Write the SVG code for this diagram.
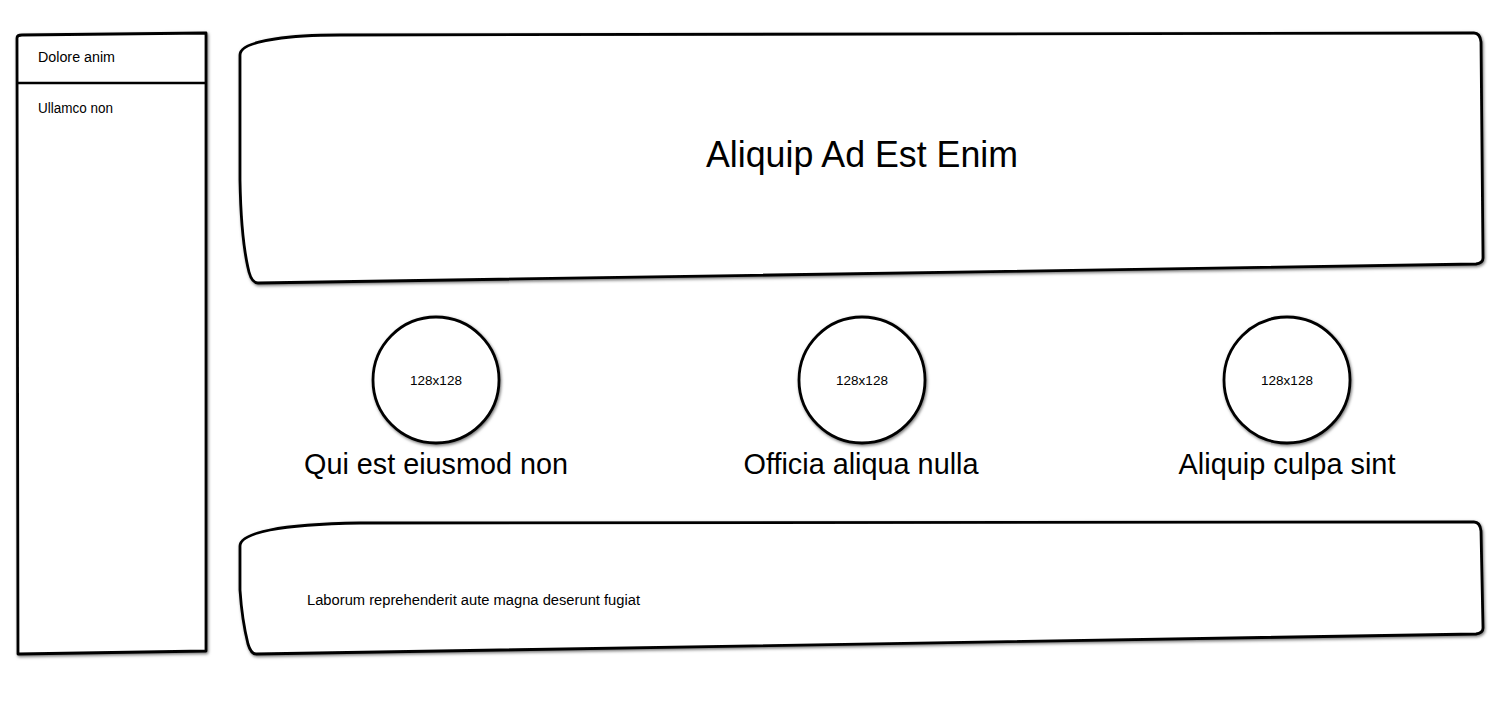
<svg xmlns="http://www.w3.org/2000/svg" width="1500" height="720" viewBox="0 0 1500 720">
<defs>
<filter id="sh" x="-5%" y="-5%" width="110%" height="110%">
<feDropShadow dx="1" dy="1.5" stdDeviation="1.6" flood-color="#000" flood-opacity="0.55"/>
</filter>
<style>
.box{fill:#fff;stroke:#000;stroke-width:2.8;stroke-linejoin:round;filter:url(#sh)}
.ln{fill:none;stroke:#000;stroke-width:2.6}
text{font-family:"Liberation Sans","Noto Sans",sans-serif;fill:#000}
.sm{font-size:14px}
.img{font-size:13.5px;text-anchor:middle}
.cap{font-size:29px;text-anchor:middle}
.title{font-size:36px;text-anchor:middle}
</style>
</defs>
<rect width="1500" height="720" fill="#fff"/>
<g id="sidebar">
<path class="box" d="M17,38 Q17,35 22,35 L206,33 L206,651 L18,654 Z"/>
<line class="ln" x1="17" y1="83" x2="206" y2="83"/>
<text class="sm" x="38" y="62" textLength="77" lengthAdjust="spacingAndGlyphs">Dolore anim</text>
<text class="sm" x="38" y="113" textLength="75" lengthAdjust="spacingAndGlyphs">Ullamco non</text>
</g>
<g id="header">
<path class="box" d="M240,55 Q240,44 275,39 Q300,35 340,35 L1474,33 Q1480,33 1481,42 L1483,258 Q1483,263 1476,264 L258,283 Q252,283 249,272 Q241,240 240,180 Z"/>
<text class="title" x="862" y="167" textLength="312" lengthAdjust="spacingAndGlyphs">Aliquip Ad Est Enim</text>
</g>
<g id="item1">
<circle class="box" cx="436" cy="380" r="63"/>
<text class="img" x="436" y="385">128x128</text>
<text class="cap" x="436" y="474" textLength="264" lengthAdjust="spacingAndGlyphs">Qui est eiusmod non</text>
</g>
<g id="item2">
<circle class="box" cx="862" cy="380" r="63"/>
<text class="img" x="862" y="385">128x128</text>
<text class="cap" x="861" y="474" textLength="235" lengthAdjust="spacingAndGlyphs">Officia aliqua nulla</text>
</g>
<g id="item3">
<circle class="box" cx="1287" cy="380" r="63"/>
<text class="img" x="1287" y="385">128x128</text>
<text class="cap" x="1287" y="474" textLength="217" lengthAdjust="spacingAndGlyphs">Aliquip culpa sint</text>
</g>
<g id="footer">
<path class="box" d="M240,546 Q240,536 270,530 Q300,524 360,523 L1474,522 Q1480,522 1481,531 L1483,628 Q1483,633 1476,634 L256,654 Q251,654 248,644 Q242,620 240,590 Z"/>
<text class="sm" x="307" y="605" textLength="333" lengthAdjust="spacingAndGlyphs">Laborum reprehenderit aute magna deserunt fugiat</text>
</g>
<g id="connectors"/>
</svg>
